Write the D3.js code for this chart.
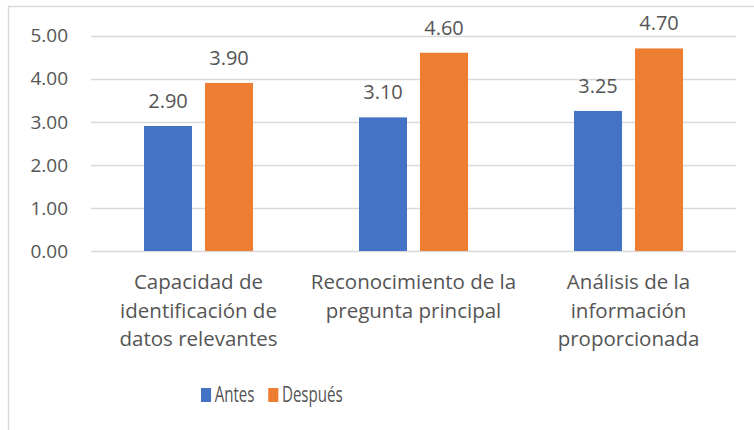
<!DOCTYPE html>
<html>
<head>
<meta charset="utf-8">
<script src="https://cdn.jsdelivr.net/npm/d3@7"></script>
<style>
  body { margin: 0; background: #fff; }
  svg text { font-family: "Open Sans", "Noto Sans", sans-serif; fill: #555555; }
</style>
</head>
<body>
<svg id="chart" width="754" height="430"></svg>
<script>
// categories (each split in lines as in the original)
const categories = [
  ["Capacidad de", "identificación de", "datos relevantes"],
  ["Reconocimiento de la", "pregunta principal"],
  ["Análisis de la", "información", "proporcionada"]
];
const seriesNames = ["Antes", "Después"];
const antes = [2.90, 3.10, 3.25];
const despues = [3.90, 4.60, 4.70];
const yTicks = [0, 1, 2, 3, 4, 5];

const colors = ["#4472C4", "#ED7D31"];

const svg = d3.select('#chart');

// chart frame (right and bottom edges fall outside the picture)
svg.append('rect')
  .attr('x', 8.5).attr('y', 6.5)
  .attr('width', 800).attr('height', 500)
  .attr('fill', 'none').attr('stroke', '#D9D9D9').attr('stroke-width', 1.5);

const plot = { left: 91, right: 736, top: 35.5, bottom: 251 };

const x0 = d3.scaleBand()
  .domain(d3.range(categories.length))
  .range([plot.left, plot.right]);

const x1 = d3.scaleBand()
  .domain(seriesNames)
  .range([x0.bandwidth() / 2 - 54.5, x0.bandwidth() / 2 + 54.5])
  .paddingInner(0.213);

const y = d3.scaleLinear().domain([0, 5]).range([plot.bottom, plot.top]);

// gridlines
svg.append('g')
  .selectAll('line')
  .data(yTicks)
  .enter()
  .append('line')
    .attr('x1', plot.left).attr('x2', plot.right)
    .attr('y1', d => Math.round(y(d)) + 0.5).attr('y2', d => Math.round(y(d)) + 0.5)
    .attr('stroke', '#D9D9D9').attr('stroke-width', 1.5);

// y labels
svg.append('g')
  .selectAll('text')
  .data(yTicks)
  .enter()
  .append('text')
    .attr('x', 68)
    .attr('y', d => y(d))
    .attr('dy', '0.36em')
    .attr('text-anchor', 'end')
    .attr('font-size', '19px')
    .text(d => d3.format('.2f')(d));

const rows = categories.map((c, i) => ({ i, values: [antes[i], despues[i]] }));

const group = svg.selectAll('.cat')
  .data(rows)
  .enter()
  .append('g')
  .attr('class', 'cat')
  .attr('transform', d => `translate(${x0(d.i)},0)`);

const bars = group.selectAll('.bar')
  .data(d => d.values.map((v, k) => ({ name: seriesNames[k], v, k })))
  .enter();

bars.append('rect')
  .attr('x', d => x1(d.name))
  .attr('y', d => y(d.v))
  .attr('width', x1.bandwidth())
  .attr('height', d => y(0) - y(d.v))
  .attr('fill', d => colors[d.k]);

bars.append('text')
  .attr('x', d => x1(d.name) + x1.bandwidth() / 2)
  .attr('y', d => y(d.v) - 18)
  .attr('text-anchor', 'middle')
  .attr('font-size', '20px')
  .text(d => d3.format('.2f')(d.v));

// category labels
group.each(function(d) {
  const t = d3.select(this).append('text')
    .attr('text-anchor', 'middle')
    .attr('font-size', '20.5px');
  categories[d.i].forEach((line, j) => {
    t.append('tspan')
      .attr('x', x0.bandwidth() / 2)
      .attr('y', 289 + j * 28.7)
      .text(line);
  });
});

// legend (drawn condensed like the original)
const legend = svg.append('g')
  .attr('transform', 'translate(201,0) scale(0.72,1)');
let lx = 0;
seriesNames.forEach((name, k) => {
  legend.append('rect')
    .attr('x', lx).attr('y', 388)
    .attr('width', 14).attr('height', 14)
    .attr('fill', colors[k]);
  const t = legend.append('text')
    .attr('x', lx + 19).attr('y', 402)
    .attr('font-size', '21px')
    .text(name);
  lx += 19 + t.node().getComputedTextLength() + 19;
});
</script>
</body>
</html>
